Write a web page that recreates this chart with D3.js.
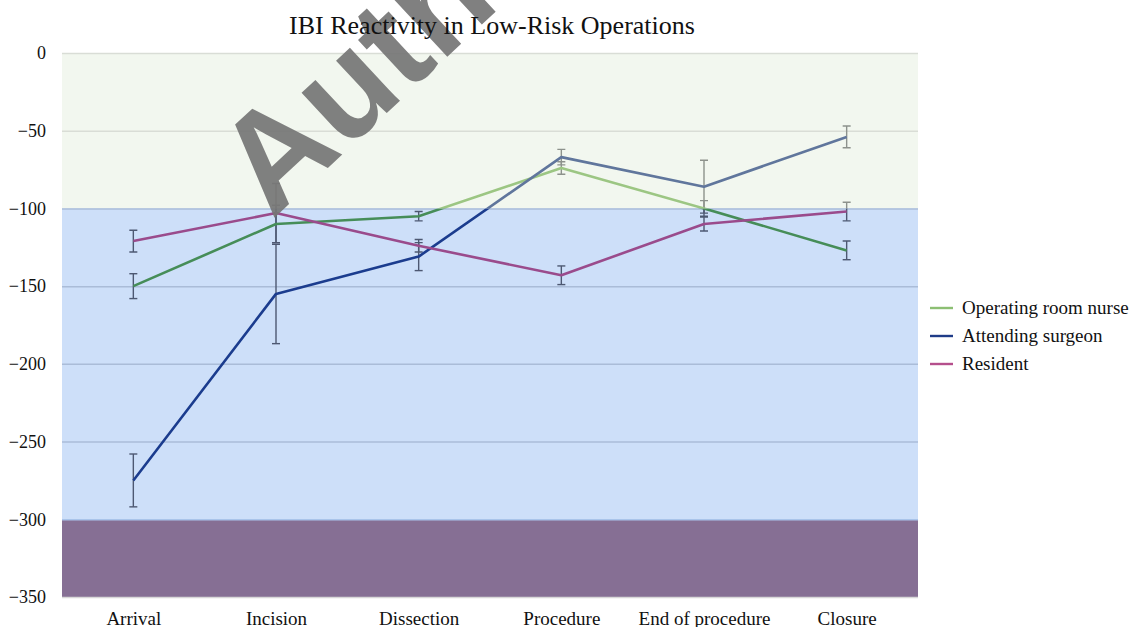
<!DOCTYPE html>
<html>
<head>
<meta charset="utf-8">
<script src="https://cdn.jsdelivr.net/npm/d3@7"></script>
<style>
  html, body { margin: 0; padding: 0; background: #fff; }
  svg { display: block; }
</style>
</head>
<body>
<svg id="chart" width="1133" height="627"></svg>
<script>
// Phases of the operation
const categories = ["Arrival", "Incision", "Dissection", "Procedure", "End of procedure", "Closure"];

// Mean IBI reactivity per role, with error bar half-widths
const nurseValues = [-150, -110, -105, -74, -100, -127];
const nurseErrors = [8, 12, 3, 4, 5, 6];
const surgeonValues = [-275, -155, -131, -67, -86, -54];
const surgeonErrors = [17, 32, 9, 5, 17, 7];
const residentValues = [-121, -103, -124, -143, -110, -102];
const residentErrors = [7, 19, 4, 6, 4.5, 6];

const seriesNames = ["Operating room nurse", "Attending surgeon", "Resident"];

// Y axis ticks and shaded zones
const yTicks = [0, -50, -100, -150, -200, -250, -300, -350];
const zoneBounds = [[0, -100], [-100, -300], [-300, -350]];

const titleText = "IBI Reactivity in Low-Risk Operations";

// ---- layout ----
const serif = "'Liberation Serif', 'Times New Roman', serif";
const svg = d3.select("#chart");
const plot = { left: 62, right: 918, top: 53, bottom: 597 };

const x = d3.scalePoint().domain(categories).range([plot.left, plot.right]).padding(0.5);
const y = d3.scaleLinear().domain([-350, 0]).range([plot.bottom, plot.top]);

const series = [
  { name: seriesNames[0], values: nurseValues, errors: nurseErrors, dark: "#468d58", light: "#9cc683", legend: "#8cbf73" },
  { name: seriesNames[1], values: surgeonValues, errors: surgeonErrors, dark: "#1b3c8e", light: "#60769c", legend: "#1f3c88" },
  { name: seriesNames[2], values: residentValues, errors: residentErrors, dark: "#9a4b8c", light: "#b98ab0", legend: "#b54f8c" }
];

// zone backgrounds
const zoneFill = ["#f2f7ef", "#cddff9", "#866f94"];
svg.append("g").selectAll("rect")
  .data(zoneBounds)
  .join("rect")
  .attr("x", plot.left)
  .attr("width", plot.right - plot.left)
  .attr("y", d => y(d[0]))
  .attr("height", d => y(d[1]) - y(d[0]))
  .attr("fill", (d, i) => zoneFill[i]);

// gridlines
const grid = svg.append("g")
  .attr("transform", `translate(${plot.left},0)`)
  .call(d3.axisLeft(y).tickValues(yTicks).tickSize(-(plot.right - plot.left)).tickFormat(""));
grid.select(".domain").remove();
grid.selectAll("line")
  .attr("stroke", d => d > -100 || d === 0 ? "#d9ddd6" : (d === -300 ? "#a9c4ea" : (d === -350 ? "#d8d8d8" : "#aabcd8")))
  .attr("stroke-width", 1.5);

// clip regions: the upper band tints whatever runs through it
const defs = svg.append("defs");
defs.append("clipPath").attr("id", "clipUpper").append("rect")
  .attr("x", 0).attr("width", 1133).attr("y", 0).attr("height", y(-100));
defs.append("clipPath").attr("id", "clipLower").append("rect")
  .attr("x", 0).attr("width", 1133).attr("y", y(-100)).attr("height", 627 - y(-100));

const line = d3.line().x((d, i) => x(categories[i])).y(d => y(d));

function drawLayer(clipId, useLight) {
  const layer = svg.append("g").attr("clip-path", `url(#${clipId})`);
  // error bars
  series.forEach(s => {
    const eb = layer.append("g");
    s.values.forEach((v, i) => {
      const cx = x(categories[i]);
      const col = useLight ? "#8d928c" : "#4d5872";
      eb.append("line").attr("x1", cx).attr("x2", cx)
        .attr("y1", y(v + s.errors[i])).attr("y2", y(v - s.errors[i]))
        .attr("stroke", col).attr("stroke-width", 1.4);
      [v + s.errors[i], v - s.errors[i]].forEach(e => {
        eb.append("line").attr("x1", cx - 4).attr("x2", cx + 4)
          .attr("y1", y(e)).attr("y2", y(e))
          .attr("stroke", col).attr("stroke-width", 1.4);
      });
    });
  });
  // lines
  series.forEach(s => {
    layer.append("path")
      .datum(s.values)
      .attr("d", line)
      .attr("fill", "none")
      .attr("stroke", useLight ? s.light : s.dark)
      .attr("stroke-width", 2.6)
      .attr("stroke-linejoin", "round");
  });
}
drawLayer("clipLower", false);
drawLayer("clipUpper", true);

// y axis labels
const yAxis = svg.append("g")
  .attr("transform", `translate(${plot.left - 16},0)`)
  .call(d3.axisLeft(y).tickValues(yTicks).tickSize(0).tickPadding(0).tickFormat(d3.format("d")));
yAxis.select(".domain").remove();
yAxis.selectAll("text")
  .style("font-family", serif)
  .style("font-size", "18px")
  .attr("fill", "#111");

// x axis labels
const xAxis = svg.append("g")
  .attr("transform", `translate(0,${plot.bottom + 14})`)
  .call(d3.axisBottom(x).tickSize(0).tickPadding(0));
xAxis.select(".domain").remove();
xAxis.selectAll("text")
  .style("font-family", serif)
  .style("font-size", "19px")
  .attr("fill", "#111");

// legend
const legend = svg.append("g").attr("transform", "translate(930,308)");
series.forEach((s, i) => {
  const row = legend.append("g").attr("transform", `translate(0,${i * 28})`);
  row.append("line").attr("x1", 0).attr("x2", 23).attr("y1", 0).attr("y2", 0)
    .attr("stroke", s.legend).attr("stroke-width", 2.4);
  row.append("text").attr("x", 32).attr("y", 6)
    .style("font-family", serif)
    .style("font-size", "19px")
    .attr("fill", "#111").text(s.name);
});

// watermark
svg.append("text")
  .attr("transform", "translate(272,220) rotate(-43)")
  .style("font-family", "'Liberation Sans', Arial, sans-serif")
  .style("font-size", "138px")
  .style("font-weight", "bold")
  .attr("fill", "#757575")
  .attr("fill-opacity", 0.92)
  .text("Author");

// title
svg.append("text")
  .attr("x", 492).attr("y", 34)
  .attr("text-anchor", "middle")
  .style("font-family", serif)
  .style("font-size", "26px")
  .attr("fill", "#111")
  .text(titleText);
</script>
</body>
</html>
